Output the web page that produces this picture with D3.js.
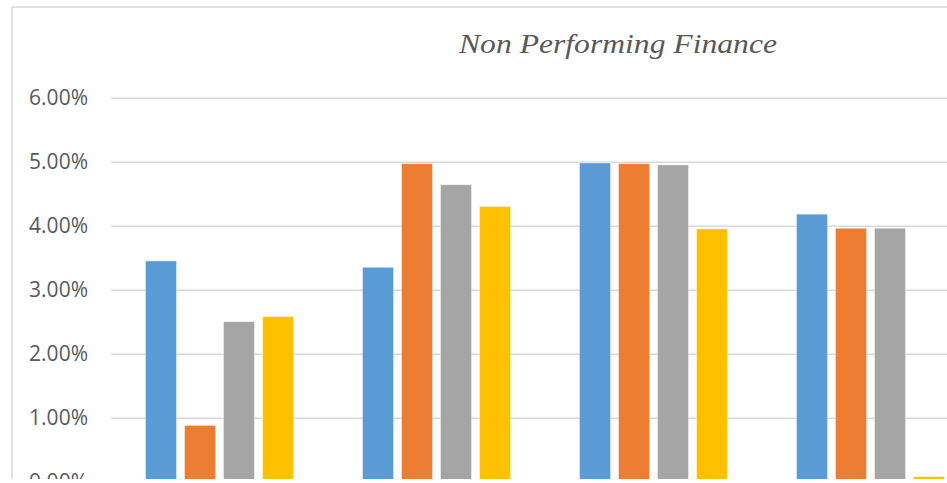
<!DOCTYPE html>
<html>
<head>
<meta charset="utf-8">
<script src="https://cdn.jsdelivr.net/npm/d3@7"></script>
<style>
  body { margin: 0; background: #fff; }
  .tick text { font-family: "Open Sans", sans-serif; font-size: 21px; fill: #595959; }
  .tick line { stroke: #d9d9d9; stroke-width: 1.5; }
</style>
</head>
<body>
<script>
// Categories and series (labels are cut off in the source picture)
const categories = ["Period 1", "Period 2", "Period 3", "Period 4"];
const seriesNames = ["Series 1", "Series 2", "Series 3", "Series 4"];

// Values per series, one per category
const series1 = [0.0345, 0.0335, 0.0498, 0.0418];
const series2 = [0.0088, 0.0497, 0.0497, 0.0396];
const series3 = [0.0250, 0.0464, 0.0495, 0.0396];
const series4 = [0.0258, 0.0430, 0.0395, 0.0008];

const yTicks = [0, 0.01, 0.02, 0.03, 0.04, 0.05, 0.06];
const colors = ["#5b9bd5", "#ed7d31", "#a5a5a5", "#ffc000"];

const width = 947, height = 483;

const svg = d3.select("body")
    .append("svg")
    .attr("width", width)
    .attr("height", height);

// the source picture is cut just under the bars
svg.append("clipPath")
    .attr("id", "cut")
    .append("rect")
    .attr("width", width)
    .attr("height", 479);

const g = svg.append("g").attr("clip-path", "url(#cut)");

// chart border (only top and left visible)
g.append("line")
    .attr("x1", 12).attr("x2", width)
    .attr("y1", 7).attr("y2", 7)
    .attr("stroke", "#d9d9d9").attr("stroke-width", 1.5);
g.append("line")
    .attr("x1", 12).attr("x2", 12)
    .attr("y1", 7).attr("y2", height)
    .attr("stroke", "#d9d9d9").attr("stroke-width", 1.5);

// Title (source font is wider than Times, so stretch to its width)
g.append("text")
    .attr("x", 459)
    .attr("y", 53)
    .attr("textLength", 318)
    .attr("lengthAdjust", "spacingAndGlyphs")
    .style("font-family", "'Liberation Serif', Tinos, 'Times New Roman', 'DejaVu Serif', serif")
    .style("font-style", "italic")
    .style("font-size", "27px")
    .style("fill", "#595959")
    .text("Non Performing Finance");

const plotLeft = 111, plotRight = 979;

const y = d3.scaleLinear()
    .domain([0, 0.06])
    .range([481.7, 97.7]);

const x0 = d3.scaleBand()
    .domain(categories)
    .range([plotLeft, plotRight])
    .paddingInner(0.318)
    .paddingOuter(0.159);

const x1 = d3.scaleBand()
    .domain(seriesNames)
    .range([0, x0.bandwidth()])
    .paddingInner(0.205);

// y axis with gridlines
g.append("g")
    .attr("transform", `translate(${plotLeft},0)`)
    .call(d3.axisLeft(y)
        .tickValues(yTicks)
        .tickFormat(d3.format(".2%"))
        .tickSize(-(plotRight - plotLeft))
        .tickPadding(23))
    .call(a => a.select(".domain").remove());

const table = categories.map((c, i) => ({
    category: c,
    values: [series1[i], series2[i], series3[i], series4[i]]
}));

const groups = g.selectAll(".group")
    .data(table)
    .enter().append("g")
    .attr("class", "group")
    .attr("transform", d => `translate(${x0(d.category)},0)`);

groups.selectAll("rect")
    .data(d => d.values.map((v, j) => ({ name: seriesNames[j], value: v, j: j })))
    .enter().append("rect")
    .attr("x", d => x1(d.name))
    .attr("y", d => y(d.value))
    .attr("width", x1.bandwidth())
    .attr("height", d => y(0) - y(d.value))
    .attr("fill", d => colors[d.j])
    .attr("stroke", "#fff")
    .attr("stroke-opacity", 0.4)
    .attr("stroke-width", 1);
</script>
</body>
</html>
